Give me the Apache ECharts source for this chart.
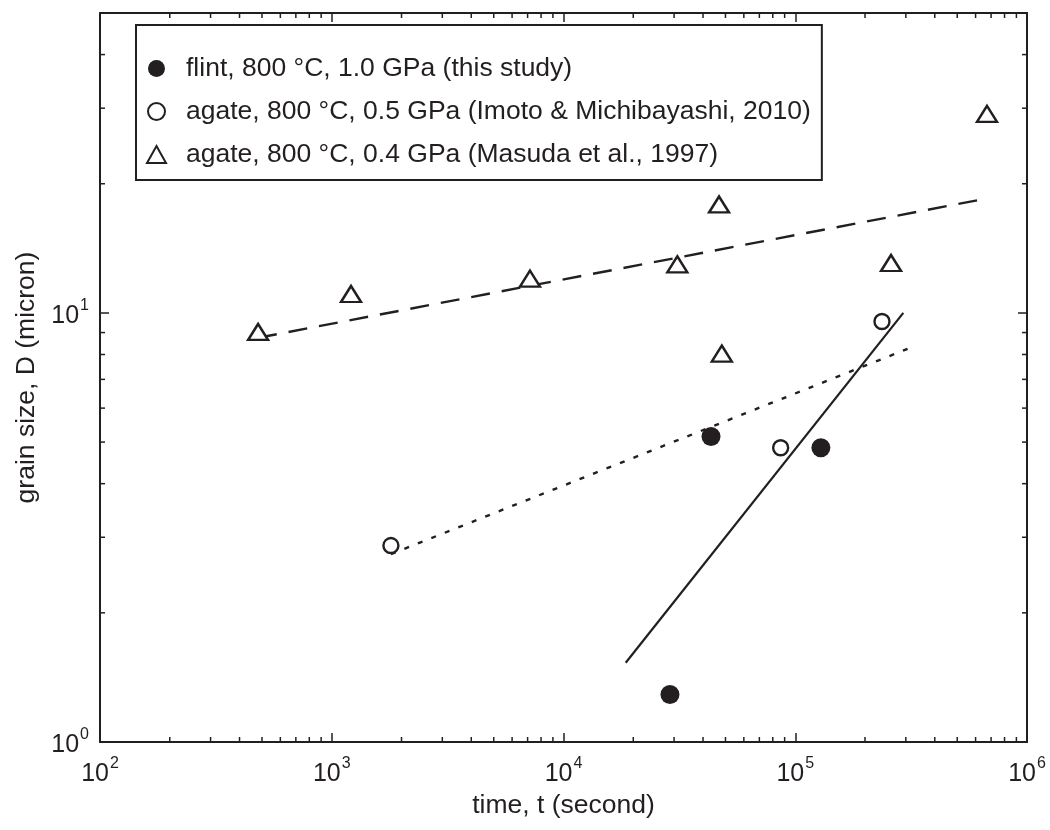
<!DOCTYPE html>
<html>
<head>
<meta charset="utf-8">
<script src="https://cdn.jsdelivr.net/npm/echarts@6/dist/echarts.min.js"></script>
<style>
html,body{margin:0;padding:0;background:#fff;}
#chart{width:1050px;height:830px;}
</style>
</head>
<body>
<div id="chart"></div>
<script>
// ---- data ----
const flintTime = [28800, 43300, 129000];
const flintSize = [1.29, 5.15, 4.85];

const imotoTime = [1800, 86500, 236700];
const imotoSize = [2.87, 4.85, 9.55];

const masudaTime = [481, 1211, 7167, 30980, 46900, 48200, 259000, 672000];
const masudaSize = [9.03, 11.07, 12.02, 12.98, 17.9, 8.04, 13.07, 29.1];

// fit lines (end points)
const flintFitTime = [18550, 292600];
const flintFitSize = [1.53, 10.0];
const imotoFitTime = [1800, 328800];
const imotoFitSize = [2.74, 8.38];
const masudaFitTime = [481, 679000];
const masudaFitSize = [8.75, 18.5];

const seriesNames = [
  'flint, 800 °C, 1.0 GPa (this study)',
  'agate, 800 °C, 0.5 GPa (Imoto & Michibayashi, 2010)',
  'agate, 800 °C, 0.4 GPa (Masuda et al., 1997)'
];

const xTicks = [1e2, 1e3, 1e4, 1e5, 1e6];
const yTicks = [1, 10];
const xRange = [1e2, 1e6];
const yRange = [1, 50];
const xName = 'time, t (second)';
const yName = 'grain size, D (micron)';

// ---- helpers ----
const ink = '#231f20';
const font = "'Liberation Sans', Arial, Helvetica, sans-serif";
const pair = (xs, ys) => xs.map((x, i) => [x, ys[i]]);

function minorValues(lo, hi) {
  const out = [];
  for (let e = Math.floor(Math.log10(lo)); e < Math.ceil(Math.log10(hi)); e++) {
    for (let m = 2; m <= 9; m++) {
      const v = m * Math.pow(10, e);
      if (v > lo && v < hi) out.push(v);
    }
  }
  return out;
}
const xMinor = minorValues(xRange[0], xRange[1]);
const yMinor = minorValues(yRange[0], yRange[1]);

function tickLabel(list) {
  return function (value) {
    for (const t of list) {
      if (Math.abs(value - t) / t < 1e-6) {
        return '{b|10}{s|' + Math.round(Math.log10(t)) + '}';
      }
    }
    return '';
  };
}
const richLabel = {
  b: { fontSize: 25, fontFamily: font, color: ink, lineHeight: 31, verticalAlign: 'bottom' },
  s: { fontSize: 16, fontFamily: font, color: ink, verticalAlign: 'top', lineHeight: 16, padding: [0, 0, 0, 1] }
};

const MINOR = 5;
const chart = echarts.init(document.getElementById('chart'), null, { renderer: 'canvas' });

const axisCommon = {
  type: 'log',
  logBase: 10,
  axisLine: { show: true, onZero: false, lineStyle: { color: ink, width: 2 } },
  axisTick: { show: true, inside: true, length: 9, lineStyle: { color: ink, width: 1.5 } },
  splitLine: { show: false },
  minorTick: { show: false },
  minorSplitLine: { show: false }
};

const option = {
  backgroundColor: '#ffffff',
  animation: false,
  grid: { left: 100, right: 23, top: 13, bottom: 88, containLabel: false },
  textStyle: { fontFamily: font, color: ink },
  legend: {
    show: true,
    orient: 'vertical',
    left: 136,
    top: 25,
    data: [
      { name: seriesNames[0], icon: 'circle' },
      { name: seriesNames[1], icon: 'circle' },
      { name: seriesNames[2], icon: 'triangle' }
    ],
    itemWidth: 19,
    itemHeight: 17,
    itemGap: 16,
    padding: [30, 11, 12, 10],
    borderColor: ink,
    borderWidth: 2,
    borderRadius: 0,
    backgroundColor: '#fff',
    selectedMode: false,
    textStyle: { fontSize: 26.5, fontFamily: font, color: ink, lineHeight: 26, padding: [0, 0, 0, 15] }
  },
  xAxis: [
    Object.assign({}, axisCommon, {
      position: 'bottom', min: xRange[0], max: xRange[1],
      name: xName, nameLocation: 'middle', nameGap: 46,
      nameTextStyle: { fontSize: 26.5, fontFamily: font, color: ink, verticalAlign: 'top' },
      axisLabel: { show: true, margin: 14, formatter: tickLabel(xTicks), rich: richLabel }
    }),
    Object.assign({}, axisCommon, {
      position: 'top', min: xRange[0], max: xRange[1],
      axisLabel: { show: false }
    })
  ],
  yAxis: [
    Object.assign({}, axisCommon, {
      position: 'left', min: yRange[0], max: yRange[1],
      name: yName, nameLocation: 'middle', nameGap: 58, nameRotate: 90,
      nameTextStyle: { fontSize: 26.5, fontFamily: font, color: ink },
      axisLabel: { show: true, margin: 11, formatter: tickLabel(yTicks), rich: richLabel }
    }),
    Object.assign({}, axisCommon, {
      position: 'right', min: yRange[0], max: yRange[1],
      axisLabel: { show: false }
    })
  ],
  series: [
    {
      name: 'xminor', type: 'custom', xAxisIndex: 0, yAxisIndex: 0, silent: true,
      clip: false, z: 1,
      data: xMinor.map(v => [v, yRange[0]]),
      renderItem: function (params, api) {
        const v = api.value(0);
        const b = api.coord([v, yRange[0]]);
        const t = api.coord([v, yRange[1]]);
        const st = { stroke: ink, lineWidth: 1.5 };
        return { type: 'group', children: [
          { type: 'line', shape: { x1: b[0], y1: b[1], x2: b[0], y2: b[1] - MINOR }, style: st },
          { type: 'line', shape: { x1: t[0], y1: t[1], x2: t[0], y2: t[1] + MINOR }, style: st }
        ] };
      }
    },
    {
      name: 'yminor', type: 'custom', xAxisIndex: 0, yAxisIndex: 0, silent: true,
      clip: false, z: 1,
      data: yMinor.map(v => [xRange[0], v]),
      renderItem: function (params, api) {
        const v = api.value(1);
        const l = api.coord([xRange[0], v]);
        const r = api.coord([xRange[1], v]);
        const st = { stroke: ink, lineWidth: 1.5 };
        return { type: 'group', children: [
          { type: 'line', shape: { x1: l[0], y1: l[1], x2: l[0] + MINOR, y2: l[1] }, style: st },
          { type: 'line', shape: { x1: r[0], y1: r[1], x2: r[0] - MINOR, y2: r[1] }, style: st }
        ] };
      }
    },
    {
      name: 'masudaFit', type: 'line', data: pair(masudaFitTime, masudaFitSize),
      symbol: 'none', silent: true, z: 2,
      lineStyle: { color: ink, width: 2.4, type: [19, 12] }
    },
    {
      name: 'imotoFit', type: 'line', data: pair(imotoFitTime, imotoFitSize),
      symbol: 'none', silent: true, z: 2,
      lineStyle: { color: ink, width: 2.4, type: [5, 9.5] }
    },
    {
      name: 'flintFit', type: 'line', data: pair(flintFitTime, flintFitSize),
      symbol: 'none', silent: true, z: 2,
      lineStyle: { color: ink, width: 2.2, type: 'solid' }
    },
    {
      name: seriesNames[0], type: 'scatter', data: pair(flintTime, flintSize),
      symbol: 'circle', symbolSize: 19, z: 3,
      itemStyle: { color: ink, borderWidth: 0, opacity: 1 }
    },
    {
      name: seriesNames[1], type: 'scatter', data: pair(imotoTime, imotoSize),
      symbol: 'circle', symbolSize: 15, z: 3,
      itemStyle: { color: '#fff', borderColor: ink, borderWidth: 2.4, opacity: 1 }
    },
    {
      name: seriesNames[2], type: 'scatter', data: pair(masudaTime, masudaSize),
      symbol: 'triangle', symbolSize: [20, 16], z: 3,
      itemStyle: { color: '#fff', borderColor: ink, borderWidth: 2.4, opacity: 1 }
    }
  ]
};
chart.setOption(option);
</script>
</body>
</html>
